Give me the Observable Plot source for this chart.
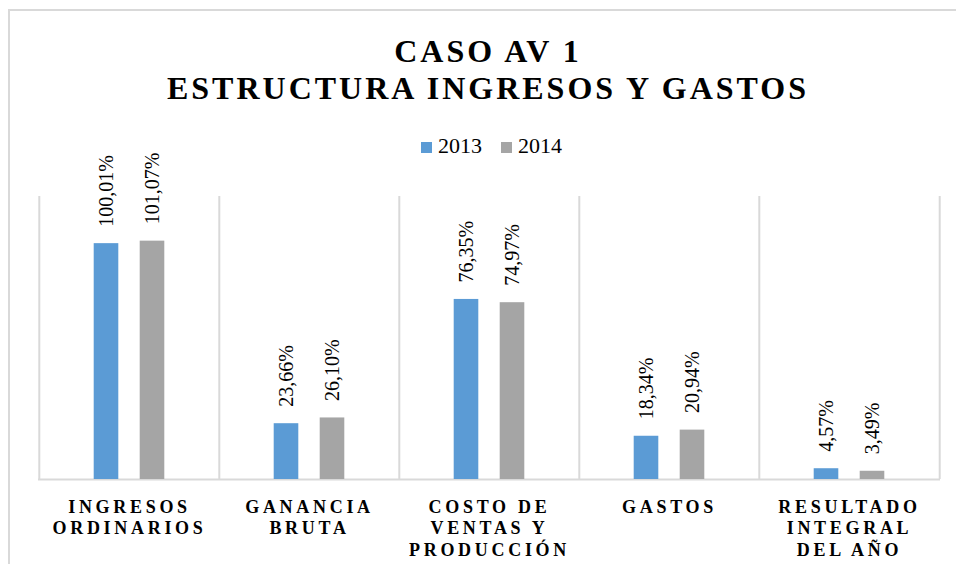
<!DOCTYPE html>
<html>
<head>
<meta charset="utf-8">
<script src="https://cdn.jsdelivr.net/npm/d3@7"></script>
<script src="https://cdn.jsdelivr.net/npm/@observablehq/plot@0.6"></script>
</head>
<body style="margin:0;padding:0;background:#fff">
<div id="wrap" style="position:relative;width:956px;height:564px;color:#000">
  <div style="position:absolute;left:8px;top:9px;width:948px;height:555px;border-left:2px solid #d9d9d9;border-top:2px solid #d9d9d9;box-sizing:border-box"></div>
  <div style="position:absolute;left:9px;width:958px;top:33px;text-align:center;font-family:'Liberation Serif';font-weight:bold;font-size:32px;line-height:37px;letter-spacing:3px">CASO AV 1<br>ESTRUCTURA INGRESOS Y GASTOS</div>
  <div id="legend" style="position:absolute;left:421px;top:135px;font-family:'Liberation Serif';font-size:22px;line-height:22px;display:flex;align-items:center;white-space:nowrap"></div>
  <div id="chart" style="position:absolute;left:0;top:0"></div>
</div>
<script>
const categories = ["INGRESOS\nORDINARIOS", "GANANCIA\nBRUTA", "COSTO DE\nVENTAS Y\nPRODUCCIÓN", "GASTOS", "RESULTADO\nINTEGRAL\nDEL AÑO"];
const years = ["2013", "2014"];
const values2013 = [100.01, 23.66, 76.35, 18.34, 4.57];
const values2014 = [101.07, 26.10, 74.97, 20.94, 3.49];
const colors = ["#5B9BD5", "#A5A5A5"];

const series = [values2013, values2014];
const data = [];
years.forEach((yr, j) => categories.forEach((c, i) => data.push({cat: c, year: yr, value: series[j][i]})));

const W = 956, H = 564;
const mL = 38, mR = 16, mT = 196, mB = 85;
const step = (W - mL - mR) / categories.length;
const barW = 25;
const inset = (step - barW) / 2;
const offsets = [-23, 23];
const fmt = v => v.toFixed(2).replace(".", ",") + "%";
const FONT = "Liberation Serif";

const marks = [
  Plot.ruleX(categories, {x: d => d, dx: -step / 2, stroke: "#d9d9d9", strokeWidth: 2}),
  Plot.ruleX(categories.slice(-1), {x: d => d, dx: step / 2, stroke: "#d9d9d9", strokeWidth: 2}),
  Plot.ruleY([0], {stroke: "#d9d9d9", strokeWidth: 2})
];
years.forEach((yr, j) => {
  const sub = data.filter(d => d.year === yr);
  marks.push(Plot.barY(sub, {x: "cat", y: "value", fill: colors[j], insetLeft: inset, insetRight: inset, dx: offsets[j]}));
  marks.push(Plot.text(sub, {x: "cat", y: "value", text: d => fmt(d.value), rotate: -90, textAnchor: "start", dx: offsets[j], dy: -17, fontSize: 20, fill: "#000"}));
});
marks.push(Plot.axisX({tickSize: 0, tickPadding: 18, fontSize: 18, fontWeight: "bold", lineHeight: 1.2, label: null, fill: "#000"}));

const chart = Plot.plot({
  width: W, height: H,
  marginLeft: mL, marginRight: mR, marginTop: mT, marginBottom: mB,
  x: {domain: categories, padding: 0, axis: null},
  y: {domain: [0, 120], axis: null},
  style: {fontFamily: FONT, background: "transparent", color: "#000", overflow: "visible"},
  marks
});
d3.select(chart).selectAll('g[aria-label="x-axis tick label"]').style("letter-spacing", "3.7px");
document.getElementById("chart").appendChild(chart);

const legend = d3.select("#legend");
years.forEach((yr, j) => {
  const item = legend.append("div").style("display", "flex").style("align-items", "center").style("margin-right", "19px");
  item.append("div").style("width", "11px").style("height", "11px").style("margin-right", "6px").style("margin-top", "2px").style("background", colors[j]);
  item.append("span").text(yr);
});
</script>
</body>
</html>
